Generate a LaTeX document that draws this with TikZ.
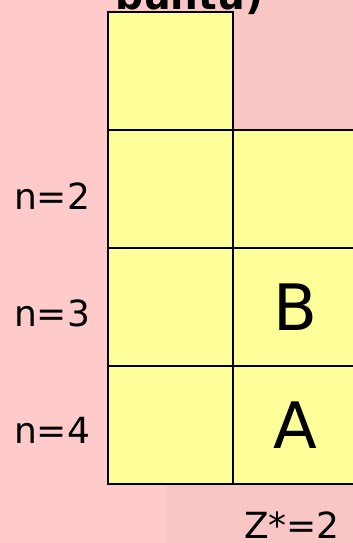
\documentclass[tikz,border=0pt]{standalone}
\usepackage{fontspec}
\setmainfont{DejaVu Sans}
\begin{document}
\begin{tikzpicture}[x=1pt,y=-1pt,
  cell/.style={draw=black,line width=2pt,fill=cellyellow,rectangle,inner sep=0pt,minimum width=125pt,minimum height=118pt,anchor=north west},
  lbl/.style={font=\fontsize{36}{42}\selectfont,inner sep=0pt},
  big/.style={font=\fontsize{64}{72}\selectfont,inner sep=0pt}]
\definecolor{cellyellow}{RGB}{255,255,153}
\definecolor{pinkA}{RGB}{255,202,202}
\definecolor{pinkB}{RGB}{249,198,198}
\useasboundingbox (0,0) rectangle (353,543);
\clip (0,0) rectangle (353,543);
\fill[pinkA] (0,0) rectangle (166,543);
\fill[pinkB] (166,0) rectangle (353,543);
\node[font=\bfseries\fontsize{39}{45}\selectfont,inner sep=0pt,anchor=base west] (title) at (115,10) {buntu)};
\node[cell] (l1) at (107,11) {};
\node[cell] (l2) at (107,129) {};
\node[cell] (l3) at (107,247) {};
\node[cell] (l4) at (107,365) {};
\node[cell] (r2) at (232,129) {};
\node[cell] (r3) at (232,247) {};
\node[cell] (r4) at (232,365) {};
\node[big] (A) at (r4.center) {A};
\node[big] (B) at (r3.center) {B};
\node[lbl] (n2) at (52,196) {n=2};
\node[lbl] (n3) at (52,313) {n=3};
\node[lbl] (n4) at (52,430) {n=4};
\node[lbl] (z) at (292,525) {Z*=2};
\end{tikzpicture}
\end{document}
